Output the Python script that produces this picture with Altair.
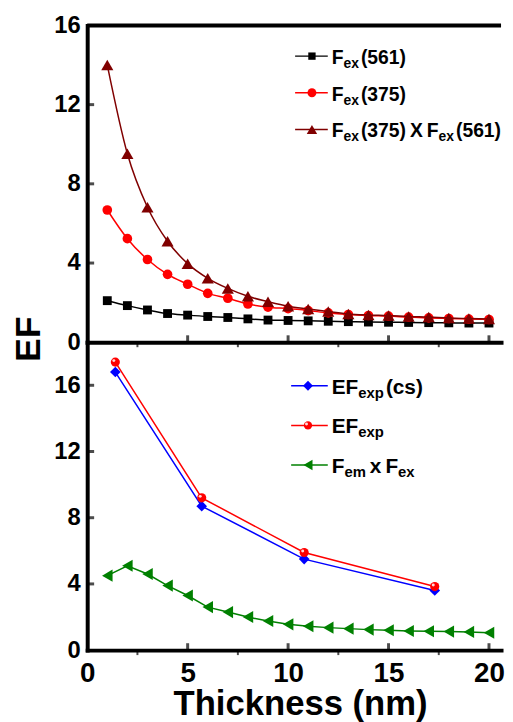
import altair as alt
import pandas as pd

# ---------------- data ----------------
thickness = list(range(1, 21))
fex_561 = [2.1, 1.85, 1.63, 1.45, 1.37, 1.3, 1.25, 1.18, 1.12, 1.1,
           1.08, 1.06, 1.04, 1.02, 1.01, 1.0, 0.99, 0.98, 0.97, 0.97]
fex_375 = [6.68, 5.23, 4.18, 3.43, 2.93, 2.47, 2.22, 1.93, 1.77, 1.7,
           1.6, 1.48, 1.4, 1.35, 1.32, 1.27, 1.23, 1.2, 1.17, 1.15]
fex_prod = [14.0, 9.52, 6.82, 5.1, 3.97, 3.23, 2.72, 2.32, 2.05, 1.82,
            1.68, 1.55, 1.43, 1.38, 1.35, 1.3, 1.27, 1.22, 1.2, 1.18]

exp_thickness = [1.4, 5.7, 10.8, 17.3]
ef_exp_cs = [16.8, 8.7, 5.5, 3.6]
ef_exp = [17.4, 9.2, 5.9, 3.84]
fem_fex = [4.5, 5.1, 4.6, 3.9, 3.3, 2.6, 2.3, 2.0, 1.76, 1.56,
           1.44, 1.36, 1.3, 1.24, 1.2, 1.16, 1.14, 1.12, 1.1, 1.05]

top_y_ticks = [0, 4, 8, 12, 16]
bot_y_ticks = [0, 4, 8, 12, 16]
x_major = [0, 5, 10, 15, 20]
x_minor = [2.5, 7.5, 12.5, 17.5]

# ---------------- style ----------------
FONT = "Liberation Sans"
W, H_TOP, H_BOT = 418, 320, 311
X_DOMAIN = [0, 20.6]
TOP_DOMAIN = [0, 16]
BOT_DOMAIN = [0, 18.6]
BLACK, RED, MAROON, BLUE, GREEN = "#000000", "#ff0000", "#800000", "#0000ff", "#008000"

ONE = pd.DataFrame({"k": [0]})

ADV = {"F": .611, "E": .667, "X": .667, "e": .556, "x": .556, "p": .611,
       "m": .889, "c": .556, "s": .556, "(": .333, ")": .333}


def adv(t, fs):
    return sum(ADV.get(ch, .556) for ch in t) * fs


def xenc(axis):
    return alt.X("x:Q", scale=alt.Scale(domain=X_DOMAIN, nice=False, zero=False), axis=axis)


def yenc(domain, axis):
    return alt.Y("y:Q", scale=alt.Scale(domain=domain, nice=False, zero=False), axis=axis)


def series(xs, ys, X, Y, color, shape, size, interp="linear", highlight=False):
    df = pd.DataFrame({"x": xs, "y": ys})
    base = alt.Chart(df).encode(x=X, y=Y)
    layers = [base.mark_line(color=color, strokeWidth=1.5, interpolate=interp),
              base.mark_point(shape=shape, filled=True, size=size, color=color, opacity=1)]
    if highlight:
        layers.append(base.mark_point(shape="circle", filled=True, size=9, color="white",
                                      opacity=0.85, xOffset=-1.5, yOffset=-1.5))
    return layers


def frame_ticks(X, Y, H, y_vals):
    layers = []
    layers.append(alt.Chart(pd.DataFrame({"x": x_major[1:]})).mark_tick(
        orient="vertical", size=7, thickness=3, color=BLACK, yOffset=-3.5).encode(
        x=X, y=alt.value(H)))
    layers.append(alt.Chart(pd.DataFrame({"x": x_minor})).mark_tick(
        orient="vertical", size=5, thickness=2, color=BLACK, yOffset=2.5).encode(
        x=X, y=alt.value(H)))
    layers.append(alt.Chart(pd.DataFrame({"y": y_vals})).mark_tick(
        orient="horizontal", size=7, thickness=3, color=BLACK, xOffset=3.5).encode(
        y=Y, x=alt.value(0)))
    return layers


def legend(rows, x_line0, x_line1, x_mark, x_text, fs_main, fs_sub):
    layers = []
    for yc, color, shape, size, segs, hl in rows:
        layers.append(alt.Chart(ONE).mark_rule(color=color, strokeWidth=1.5).encode(
            x=alt.value(x_line0), x2=alt.value(x_line1), y=alt.value(yc)))
        layers.append(alt.Chart(ONE).mark_point(shape=shape, filled=True, size=size,
                                                color=color, opacity=1).encode(
            x=alt.value(x_mark), y=alt.value(yc)))
        if hl:
            layers.append(alt.Chart(ONE).mark_point(shape="circle", filled=True, size=9,
                                                    color="white", opacity=0.85).encode(
                x=alt.value(x_mark - 1.5), y=alt.value(yc - 1.5)))
        xpos = x_text
        for text, kind, gap in segs:
            xpos += gap
            fs = fs_main if kind == "m" else fs_sub
            yb = yc + 8 if kind == "m" else yc + 12
            layers.append(alt.Chart(ONE).mark_text(
                text=text, font=FONT, fontWeight="bold", fontSize=fs, align="left",
                baseline="alphabetic", color=BLACK).encode(
                x=alt.value(xpos), y=alt.value(yb)))
            xpos += adv(text, fs)
    return layers


# ---------------- top panel ----------------
x_axis_top = alt.Axis(title=None, labels=False, ticks=False, grid=False,
                      domainWidth=4, domainColor=BLACK, domainCap="square")
y_axis_top = alt.Axis(values=top_y_ticks, ticks=False, grid=False, labelPadding=7,
                      labelFont=FONT, labelFontWeight="bold", labelFontSize=24,
                      labelColor=BLACK, domainWidth=4, domainColor=BLACK, domainCap="square",
                      title="EF", titleFont=FONT, titleFontWeight="bold", titleFontSize=36,
                      titleColor=BLACK, titleAngle=270, titleAlign="center",
                      titleBaseline="alphabetic", titleX=-48.5, titleY=316.5)
XT = xenc(x_axis_top)
YT = yenc(TOP_DOMAIN, y_axis_top)

top_layers = []
top_layers.append(alt.Chart(pd.DataFrame({"y": [16]})).mark_rule(
    color=BLACK, strokeWidth=4).encode(y=YT))
top_layers += series(thickness, fex_561, XT, YT, BLACK, "square", 80, "monotone")
top_layers += series(thickness, fex_375, XT, YT, RED, "circle", 95, "monotone")
top_layers += series(thickness, fex_prod, XT, YT, MAROON, "triangle-up", 150, "monotone")
top_layers += frame_ticks(XT, YT, H_TOP, top_y_ticks[1:-1])
top_layers += legend([
    (31, BLACK, "square", 55, [("F", "m", 0), ("ex", "s", 0), ("(561)", "m", 2)], False),
    (68, RED, "circle", 80, [("F", "m", 0), ("ex", "s", 0), ("(375)", "m", 2)], False),
    (105, MAROON, "triangle-up", 110, [("F", "m", 0), ("ex", "s", 0), ("(375)", "m", 2),
                                       ("X", "m", 4), ("F", "m", 4), ("ex", "s", 0),
                                       ("(561)", "m", 2)], False),
], 210, 243, 227, 247, 19.5, 14)

top = alt.layer(*top_layers).properties(width=W, height=H_TOP)

# ---------------- bottom panel ----------------
x_axis_bot = alt.Axis(values=x_major, ticks=False, grid=False, labelPadding=10,
                      labelFlush=False, labelFont=FONT, labelFontWeight="bold",
                      labelFontSize=28, labelColor=BLACK, labelOverlap=False,
                      domainWidth=4, domainColor=BLACK, domainCap="square",
                      title="Thickness (nm)", titleFont=FONT, titleFontWeight="bold",
                      titleFontSize=35, titleColor=BLACK, titleAlign="center",
                      titleBaseline="alphabetic", titleX=215, titleY=65)
y_axis_bot = alt.Axis(values=bot_y_ticks, ticks=False, grid=False, labelPadding=7,
                      labelFont=FONT, labelFontWeight="bold", labelFontSize=24,
                      labelColor=BLACK, domainWidth=4, domainColor=BLACK, domainCap="square",
                      title=None)
XB = xenc(x_axis_bot)
YB = yenc(BOT_DOMAIN, y_axis_bot)

bot_layers = []
bot_layers += series(exp_thickness, ef_exp_cs, XB, YB, BLUE, "diamond", 115)
bot_layers += series(exp_thickness, ef_exp, XB, YB, RED, "circle", 85, highlight=True)
bot_layers += series(thickness, fem_fex, XB, YB, GREEN, "triangle-left", 150)
bot_layers += frame_ticks(XB, YB, H_BOT, bot_y_ticks[1:])
bot_layers += legend([
    (44, BLUE, "diamond", 100, [("EF", "m", 0), ("exp", "s", 0), ("(cs)", "m", 2)], False),
    (84, RED, "circle", 70, [("EF", "m", 0), ("exp", "s", 0)], True),
    (124, GREEN, "triangle-left", 110, [("F", "m", 0), ("em", "s", 0), ("x", "m", 4),
                                        ("F", "m", 4), ("ex", "s", 0)], False),
], 206, 243, 223, 247, 21, 15)

bottom = alt.layer(*bot_layers).properties(width=W, height=H_BOT)

chart = alt.vconcat(top, bottom, spacing=0, bounds="flush").properties(
    padding={"left": 2, "top": 2, "right": 0, "bottom": 0}
).configure_view(stroke=None)

chart.save("out.html", embed_options={"renderer": "svg", "actions": False})
